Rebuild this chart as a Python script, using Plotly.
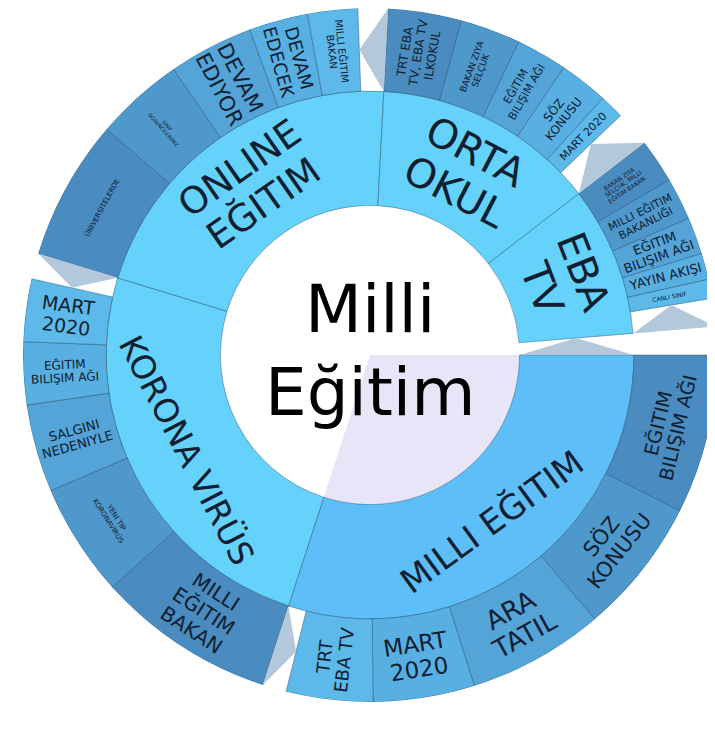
import math
import plotly.graph_objects as go

# ---------------- data ----------------
root_label = "Milli Eğitim"
root_value = 360.0

group_labels = ["MILLI EĞITIM", "KORONA VIRÜS", "ONLINE\nEĞITIM", "ORTA\nOKUL", "EBA\nTV"]
group_values = [108.0, 89.0, 76.0, 49.3, 33.0]

child_labels = [
    ["EĞITIM\nBILIŞIM AĞI", "SÖZ\nKONUSU", "ARA\nTATIL", "MART\n2020", "TRT\nEBA TV"],
    ["MILLI\nEĞITIM\nBAKAN", "YENI TIP\nKORONAVIRÜS", "SALGINI\nNEDENIYLE", "EĞITIM\nBILIŞIM AĞI", "MART\n2020"],
    ["ÜNIVERSITELERDE", "SINIF\nÖĞRENCILERIMIZ", "DEVAM\nEDIYOR", "DEVAM\nEDECEK", "MILLI EĞITIM\nBAKAN"],
    ["TRT EBA\nTV, EBA TV\nILKOKUL", "BAKAN ZIYA\nSELÇUK", "EĞITIM\nBILIŞIM AĞI", "SÖZ\nKONUSU", "MART 2020"],
    ["BAKAN ZIYA\nSELÇUK, MILLI\nEĞITIM BAKAN", "MILLI EĞITIM\nBAKANLIĞI", "EĞITIM\nBILIŞIM AĞI", "YAYIN AKIŞI", "CANLI SINIF"],
]
child_values = [
    [26.7, 22.9, 22.9, 17.0, 14.5],
    [30.0, 19.0, 14.7, 10.5, 10.5],
    [23.6, 14.9, 14.2, 9.9, 8.4],
    [12.3, 10.1, 8.6, 8.2, 4.1],
    [7.4, 7.1, 6.2, 4.4, 3.2],
]
highlighted_group = 0

# ---------------- style ----------------
group_font = [34, 33, 37, 40, 40]
group_orient = ["t", "t", "t", "t", "t"]
child_font = [
    [19, 21, 26, 23, 18],
    [20, 7, 13, 12, 19],
    [7, 5, 21, 18, 10],
    [12, 9, 11, 12, 11],
    [6, 11, 13, 13, 6],
]
child_orient = [
    ["t", "t", "t", "t", "r"],
    ["t", "t", "r", "r", "r"],
    ["t", "r", "r", "r", "r"],
    ["r", "r", "r", "r", "r"],
    ["r", "r", "r", "r", "r"],
]
shades = ["#4A8BC0", "#4F98CC", "#54A4D8", "#58AFE2", "#5CB9EA"]
inner_color = "#64D2FA"
inner_hl_color = "#5EBEF8"
root_hl_color = "#E7E5F8"
fold_color = "#B3C8DB"
edge = dict(color="rgba(35,75,105,0.55)", width=0.8)
text_color = "#102030"
FONT = "DejaVu Sans"
LINE_GAP = 1.12

R0, R1, R2 = 153, 270, 355   # ring radii (radial axis units)
START = 90.0                  # compass degrees (east)
W, H = 715, 744
CX, CY = 362, 347             # centre in figure pixels
PX = 347                      # plot radius in figure pixels
RMAX = 355                    # radial axis range maximum
dom_x = [(CX - PX) / W, (CX + PX) / W]
dom_y = [(H - CY - PX) / H, min(1.0, (H - CY + PX) / H)]

scale = 360.0 / root_value

fig = go.Figure()

# compute angular layout
g_rng = []
c_rng = []
cur = START
for gv, cvals in zip(group_values, child_values):
    g0, g1 = cur, cur + gv * scale
    g_rng.append((g0, g1))
    cc = g0
    lst = []
    for v in cvals:
        lst.append((cc, cc + v * scale))
        cc += v * scale
    c_rng.append(lst)
    cur = g1
root_end = START + 360.0

# highlighted wedge in the root circle
h0, h1 = g_rng[highlighted_group]
fig.add_trace(go.Barpolar(theta=[(h0 + h1) / 2], width=[h1 - h0], base=[0], r=[R0],
                          marker=dict(color=root_hl_color, line=dict(width=0)),
                          hoverinfo="skip", showlegend=False))

# inner ring
fig.add_trace(go.Barpolar(
    theta=[(a + b) / 2 for a, b in g_rng], width=[b - a for a, b in g_rng],
    base=[R0] * len(g_rng), r=[R1 - R0] * len(g_rng),
    marker=dict(color=[inner_hl_color if i == highlighted_group else inner_color for i in range(len(g_rng))],
                line=edge),
    text=[l.replace("\n", " ") for l in group_labels], hoverinfo="text", showlegend=False))

# outer ring
th, wd, cols, txt = [], [], [], []
for gi, lst in enumerate(c_rng):
    for ci, (a, b) in enumerate(lst):
        th.append((a + b) / 2)
        wd.append(b - a)
        cols.append(shades[ci])
        txt.append(child_labels[gi][ci].replace("\n", " "))
fig.add_trace(go.Barpolar(theta=th, width=wd, base=[R1] * len(th), r=[R2 - R1] * len(th),
                          marker=dict(color=cols, line=edge), text=txt, hoverinfo="text",
                          showlegend=False))


# fold triangles in the leftover angle of each parent
def fold(apex_t, base_t, ri, ro):
    fig.add_trace(go.Scatterpolar(
        theta=[apex_t, base_t, base_t, apex_t], r=[(ri + ro) / 2, ri, ro, (ri + ro) / 2],
        mode="lines", fill="toself", fillcolor=fold_color, line=dict(width=0, color=fold_color),
        hoverinfo="skip", showlegend=False))


fold(g_rng[-1][1], root_end, R0, R1)
for gi, lst in enumerate(c_rng):
    fold(lst[-1][1], g_rng[gi][1], R1, R2)

# dummy cartesian trace for label coordinates
fig.add_trace(go.Scatter(x=[None], y=[None], showlegend=False, hoverinfo="skip"))


def rot_for(theta_c, mode):
    m = (90.0 - theta_c + 180.0) % 360.0 - 180.0  # math angle in (-180,180]
    if mode == "t":
        rot = 90.0 - m if m >= 0 else -(m + 90.0)
    else:
        rot = -m
        while rot > 90:
            rot -= 180
        while rot < -90:
            rot += 180
    return m, rot


annotations = []


def add_label(text, theta_c, r, size, mode):
    m, rot = rot_for(theta_c, mode)
    cx = r * math.cos(math.radians(m))
    cy = r * math.sin(math.radians(m))
    lines = text.split("\n")
    n = len(lines)
    # unit vector pointing "down" for rotated text, in data coords (y up)
    dx = -math.sin(math.radians(rot))
    dy = -math.cos(math.radians(rot))
    step = size * LINE_GAP * RMAX / PX
    for i, ln in enumerate(lines):
        off = (i - (n - 1) / 2) * step
        annotations.append(dict(
            x=cx + off * dx, y=cy + off * dy, xref="x", yref="y",
            text=ln, showarrow=False, textangle=rot,
            xanchor="center", yanchor="middle",
            font=dict(family=FONT, size=size, color=text_color)))


for gi, (a, b) in enumerate(g_rng):
    add_label(group_labels[gi], (a + b) / 2, (R0 + R1) / 2, group_font[gi], group_orient[gi])
    for ci, (ca, cb) in enumerate(c_rng[gi]):
        add_label(child_labels[gi][ci], (ca + cb) / 2, (R1 + R2) / 2, child_font[gi][ci], child_orient[gi][ci])

root_lines = root_label.split(" ")
for line, yy in zip(root_lines, [47, -38]):
    annotations.append(dict(x=0, y=yy, xref="x", yref="y", text=line, showarrow=False,
                            xanchor="center", yanchor="middle",
                            font=dict(family=FONT, size=66, color="#000000")))

fig.update_layout(
    width=W, height=H, margin=dict(l=0, r=0, t=0, b=0),
    paper_bgcolor="white", plot_bgcolor="rgba(0,0,0,0)", showlegend=False,
    polar=dict(domain=dict(x=dom_x, y=dom_y), bgcolor="rgba(0,0,0,0)", barmode="overlay",
               radialaxis=dict(visible=False, range=[0, RMAX]),
               angularaxis=dict(visible=False, rotation=90, direction="clockwise")),
    xaxis=dict(domain=dom_x, range=[-RMAX, RMAX], visible=False, fixedrange=True),
    yaxis=dict(domain=dom_y, range=[-RMAX, RMAX], visible=False, fixedrange=True),
    annotations=annotations,
)

fig.write_html("out.html")
